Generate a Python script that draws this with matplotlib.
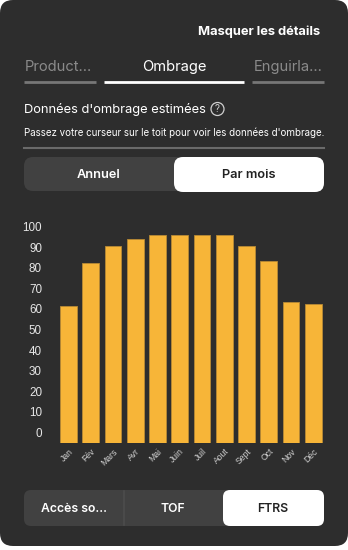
import matplotlib
matplotlib.use("Agg")
import matplotlib.pyplot as plt
from matplotlib.patches import FancyBboxPatch, Circle
import numpy as np

# Monthly shading data
months = ["Jan", "Fév", "Mars", "Avr", "Mai", "Juin", "Juil", "Aout", "Sept", "Oct", "Nov", "Déc"]
values = [61.4, 82.2, 90.6, 93.9, 95.8, 95.8, 95.8, 95.8, 90.6, 83.2, 63.2, 62.3]
yticks = [0, 10, 20, 30, 40, 50, 60, 70, 80, 90, 100]

tabs = ["Product...", "Ombrage", "Enguirla..."]
period_options = ["Annuel", "Par mois"]
source_options = ["Accès so...", "TOF", "FTRS"]

CARD = "#2d2d2d"
PANEL = "#414141"
BAR = "#f7b538"
UI_FONT = ["Inter", "DejaVu Sans"]

W, H = 348, 550
fig = plt.figure(figsize=(W / 100, H / 100), dpi=100)
fig.patch.set_facecolor("white")

# full-figure axes in pixel units for the UI elements
ui = fig.add_axes([0, 0, 1, 1])
ui.set_xlim(0, W)
ui.set_ylim(H, 0)
ui.axis("off")

def rbox(x, y, w, h, r, color, z=1):
    p = FancyBboxPatch((x, y), w, h, boxstyle=f"round,pad=0,rounding_size={r}",
                       fc=color, ec="none", zorder=z)
    ui.add_patch(p)

rbox(0, 0, W, 546, 13, CARD)

ui.text(320, 32, "Masquer les détails", color="white", fontsize=9.3, fontweight="bold",
        ha="right", va="center", family=UI_FONT)

# tabs
tab_x = [(24, 96), (104, 244), (252, 324)]
for i, (name, (x0, x1)) in enumerate(zip(tabs, tab_x)):
    active = i == 1
    col = "white" if active else "#8a8a8a"
    if i == 0:
        ui.text(x0 + 1, 67, name, color=col, fontsize=10.6, ha="left", va="center", family=UI_FONT)
    elif i == 1:
        ui.text((x0 + x1) / 2, 67, name, color=col, fontsize=10.6, ha="center", va="center", family=UI_FONT)
    else:
        ui.text(x1 - 1, 67, name, color=col, fontsize=10.6, ha="right", va="center", family=UI_FONT)
    ui.plot([x0, x1], [82, 82], color="white" if active else "#777777", lw=2, solid_capstyle="butt")

ui.text(24, 109, "Données d'ombrage estimées", color="white", fontsize=9.3,
        ha="left", va="center", family=UI_FONT)
ui.add_patch(Circle((217.5, 109), 6.5, fc="none", ec="#cfcfcf", lw=0.9))
ui.text(217.5, 109.5, "?", color="#cfcfcf", fontsize=7, ha="center", va="center", family=UI_FONT)

ui.text(24, 133, "Passez votre curseur sur le toit pour voir les données d'ombrage.",
        color="white", fontsize=7.0, ha="left", va="center", family=UI_FONT)
ui.plot([24, 324], [147.5, 147.5], color="#6a6a6a", lw=1.5)

# period toggle
rbox(24, 157, 300, 34, 9, PANEL)
rbox(174, 157, 150, 35, 9, "white", z=2)
ui.text(99, 174.5, period_options[0], color="white", fontsize=9.2, fontweight="semibold",
        ha="center", va="center", family=UI_FONT, zorder=3)
ui.text(249, 174.5, period_options[1], color="#222222", fontsize=9.2, fontweight="semibold",
        ha="center", va="center", family=UI_FONT, zorder=3)

# source segmented control
rbox(24, 490, 300, 36, 7, PANEL)
rbox(223, 490, 101, 36, 7, "white", z=2)
ui.plot([124, 124], [491, 525], color="#4c4c4c", lw=1.2, zorder=2)
for label, cx, col in zip(source_options, [74, 173, 273], ["white", "white", "#222222"]):
    ui.text(cx, 508.5, label, color=col, fontsize=8.8, fontweight="semibold",
            ha="center", va="center", family=UI_FONT, zorder=3)

# bar chart
ymin, ymax = -5, 102
ax = fig.add_axes([57.2 / W, (H - 442.7) / H, (324.5 - 57.2) / W, (442.7 - 222.6) / H])
ax.set_facecolor("none")
x = np.arange(len(months))
ax.bar(x, np.array(values) - ymin, bottom=ymin, width=0.75, color=BAR,
       edgecolor="#b88a35", linewidth=0.6)
ax.set_xlim(-0.5, len(months) - 0.5)
ax.set_ylim(ymin, ymax)
ax.set_yticks(yticks)
ax.set_yticklabels([str(t) for t in yticks], fontsize=8.4, color="#e6e6e6", family="Liberation Sans")
ax.set_xticks(x)
ax.set_xticklabels(months, rotation=45, ha="right", rotation_mode="anchor",
                   fontsize=6.2, color="#d0d0d0", family="Liberation Sans")
ax.tick_params(axis="y", length=0, pad=11)
ax.tick_params(axis="x", length=0, pad=3)
for s in ax.spines.values():
    s.set_visible(False)

fig.savefig("out.png", dpi=100, facecolor=fig.get_facecolor())
